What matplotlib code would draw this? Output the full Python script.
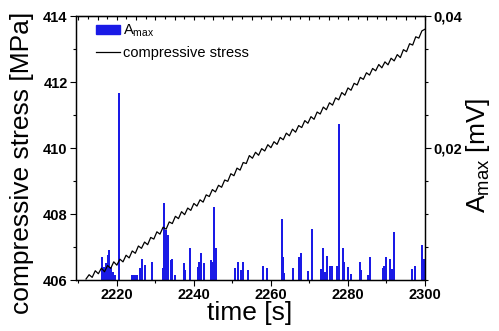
import numpy as np
import matplotlib.pyplot as plt
from matplotlib.ticker import MultipleLocator, FixedLocator, FuncFormatter
from matplotlib.patches import Patch
from matplotlib.lines import Line2D

plt.rcParams['font.family'] = ['Liberation Sans', 'DejaVu Sans']
plt.rcParams['mathtext.default'] = 'regular'

# compressive stress [MPa], sampled every 0.8 s from 2212 s to 2300 s
stress_t = np.arange(2212.0, 2300.01, 0.8)
stress = [
    406.03, 406.16, 406.08, 406.28, 406.19, 406.36, 406.25, 406.44, 406.35, 406.55,
    406.45, 406.63, 406.55, 406.75, 406.67, 406.88, 406.81, 407.03, 406.96, 407.15,
    407.07, 407.29, 407.24, 407.46, 407.39, 407.60, 407.54, 407.76, 407.71, 407.93,
    407.86, 408.07, 407.98, 408.18, 408.11, 408.32, 408.24, 408.43, 408.36, 408.58,
    408.53, 408.74, 408.67, 408.87, 408.81, 409.03, 408.99, 409.22, 409.16, 409.39,
    409.33, 409.56, 409.53, 409.77, 409.69, 409.87, 409.78, 409.98, 409.91, 410.10,
    410.01, 410.19, 410.11, 410.32, 410.25, 410.45, 410.37, 410.57, 410.48, 410.68,
    410.62, 410.83, 410.75, 410.95, 410.87, 411.09, 411.03, 411.24, 411.16, 411.37,
    411.30, 411.52, 411.46, 411.68, 411.60, 411.82, 411.75, 411.96, 411.91, 412.14,
    412.08, 412.28, 412.21, 412.41, 412.34, 412.53, 412.43, 412.61, 412.52, 412.72,
    412.64, 412.83, 412.74, 412.98, 412.92, 413.16, 413.12, 413.37, 413.33, 413.55,
    413.60,
]

# Amax events: time [s] and amplitude [mV]
amax_t = [
    2216.1, 2216.6, 2217.1, 2217.7, 2217.9, 2218.4, 2219.0, 2219.5, 2220.5,
    2223.9, 2224.4, 2225.0, 2225.2, 2226.0, 2226.5, 2227.3, 2229.2,
    2231.9, 2232.3, 2232.7, 2233.2, 2234.0, 2234.3, 2235.1, 2237.4, 2237.7,
    2239.0, 2241.0, 2241.3, 2241.8, 2242.6, 2244.4, 2244.9, 2245.2, 2245.7,
    2250.6, 2251.5, 2252.2, 2252.7, 2254.0, 2257.9, 2259.0, 2262.9, 2263.1,
    2263.4, 2265.7, 2267.3, 2267.8, 2269.6, 2270.6, 2273.0, 2273.5, 2274.0,
    2274.5, 2275.3, 2275.8, 2277.1, 2277.4, 2277.7, 2278.7, 2279.0, 2280.0,
    2280.8, 2283.1, 2283.4, 2285.2, 2285.7, 2289.1, 2289.4, 2289.9, 2290.9,
    2291.4, 2291.9, 2296.6, 2297.4, 2299.2, 2299.5, 2299.7,
]
amax_v = [
    0.0035, 0.0020, 0.0026, 0.0038, 0.0045, 0.0020, 0.0012, 0.0008, 0.0283,
    0.0008, 0.0008, 0.0008, 0.0008, 0.0018, 0.0032, 0.0023, 0.0027,
    0.0018, 0.0117, 0.0076, 0.0068, 0.0030, 0.0032, 0.0008, 0.0026, 0.0015,
    0.0048, 0.0020, 0.0027, 0.0041, 0.0026, 0.0030, 0.0027, 0.0111, 0.0048,
    0.0018, 0.0027, 0.0015, 0.0027, 0.0015, 0.0021, 0.0018, 0.0092, 0.0035,
    0.0011, 0.0018, 0.0035, 0.0041, 0.0014, 0.0077, 0.0017, 0.0048, 0.0012,
    0.0036, 0.0021, 0.0021, 0.0021, 0.0021, 0.0236, 0.0048, 0.0027, 0.0020,
    0.0009, 0.0027, 0.0015, 0.0008, 0.0035, 0.0018, 0.0021, 0.0035, 0.0032,
    0.0017, 0.0073, 0.0017, 0.0021, 0.0053, 0.0032, 0.0032,
]

blue = '#1a1ae6'

fig = plt.figure(figsize=(4.99, 3.31), dpi=100)
ax = fig.add_axes([76 / 499, 1 - 280 / 331, 349 / 499, 264 / 331])
ax2 = ax.twinx()

ax2.bar(amax_t, amax_v, width=0.45, color=blue, linewidth=0)
ax.plot(stress_t, stress, color='black', lw=0.9)

# line on top of the bars
ax.set_zorder(ax2.get_zorder() + 1)
ax.patch.set_visible(False)

ax.set_xlim(2209.4, 2300)
ax.set_ylim(406, 414)
ax2.set_ylim(0, 0.04)

ax.xaxis.set_major_locator(MultipleLocator(20))
ax.xaxis.set_minor_locator(MultipleLocator(10))
ax.yaxis.set_major_locator(MultipleLocator(2))
ax.yaxis.set_minor_locator(MultipleLocator(1))
ax2.yaxis.set_major_locator(FixedLocator([0.02, 0.04]))
ax2.yaxis.set_minor_locator(MultipleLocator(0.005))
ax2.yaxis.set_major_formatter(FuncFormatter(lambda v, p: f'{v:.2f}'.replace('.', ',')))

ax.tick_params(axis='both', which='major', length=4, width=0.8, pad=2, labelsize=10.5)
ax.tick_params(axis='both', which='minor', length=2.5, width=0.8)
ax2.tick_params(axis='y', which='major', length=4, width=0.8, pad=2, labelsize=10.5)
ax2.tick_params(axis='y', which='minor', length=2.5, width=0.8)
for lab in ax.get_xticklabels() + ax.get_yticklabels() + ax2.get_yticklabels():
    lab.set_fontweight('bold')

top = ax.secondary_xaxis('top')
top.xaxis.set_major_locator(MultipleLocator(5))
top.xaxis.set_minor_locator(MultipleLocator(2.5))
top.tick_params(which='major', direction='in', length=3, width=0.8, labeltop=False)
top.tick_params(which='minor', direction='in', length=1.8, width=0.8)

for a in (ax, ax2):
    for s in a.spines.values():
        s.set_linewidth(0.9)

fig.text(22 / 499, 1 - 163 / 331, 'compressive stress [MPa]', rotation=90,
         ha='center', va='center', fontsize=19)
fig.text(478 / 499, 1 - 155 / 331, 'A$_{max}$ [mV]', rotation=90,
         ha='center', va='center', fontsize=19)
fig.text(250 / 499, 1 - 313 / 331, 'time [s]', ha='center', va='center', fontsize=19)

handles = [Patch(facecolor=blue, edgecolor=blue),
           Line2D([], [], color='black', lw=0.9)]
ax.legend(handles, ['A$_{max}$', 'compressive stress'], loc='upper left',
          bbox_to_anchor=(0.058, 0.975), frameon=False, fontsize=10.5,
          borderpad=0, borderaxespad=0, handlelength=1.6, handleheight=0.6,
          handletextpad=0.25, labelspacing=0.45)

fig.savefig('out.png', dpi=100)
